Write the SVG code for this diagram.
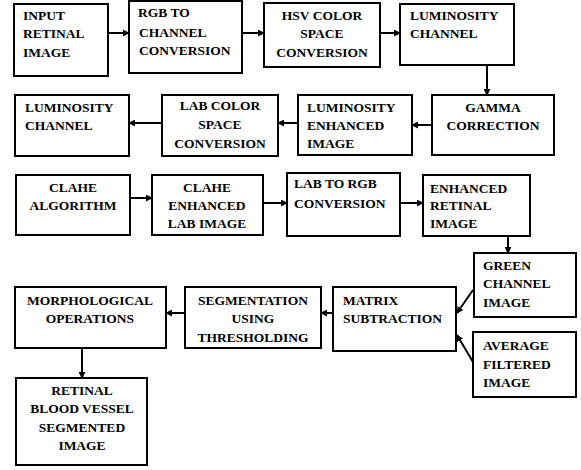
<svg xmlns="http://www.w3.org/2000/svg" width="581" height="470" viewBox="0 0 581 470">
  <defs>
    <marker id="arrow" viewBox="0 0 8 8" refX="7" refY="4" markerWidth="7" markerHeight="7" markerUnits="userSpaceOnUse" orient="auto">
      <path d="M0,0 L8,4 L0,8 Z" fill="#000"/>
    </marker>
    <style>
      rect { fill: #fff; stroke: #000; stroke-width: 2; }
      .c { text-anchor: middle; }
      #connectors line { stroke: #000; stroke-width: 2; marker-end: url(#arrow); }
    </style>
  </defs>
  <rect x="0" y="0" width="581" height="470" style="fill:#fff;stroke:none"/>

  <g id="nodes" font-family="'Liberation Serif', 'Times New Roman', 'DejaVu Serif', serif" font-weight="bold" font-size="13.5" fill="#000">
  <g id="input-retinal-image">
    <rect x="14" y="4" width="94" height="72"/>
    <text x="23" y="20">INPUT</text>
    <text x="23" y="38">RETINAL</text>
    <text x="23" y="57">IMAGE</text>
  </g>
  <g id="rgb-to-channel">
    <rect x="129" y="1" width="113" height="72"/>
    <text x="138" y="17">RGB TO</text>
    <text x="139" y="37">CHANNEL</text>
    <text x="139" y="55">CONVERSION</text>
  </g>
  <g id="hsv-conversion">
    <rect x="264" y="3" width="116" height="64"/>
    <text class="c" x="322" y="20">HSV COLOR</text>
    <text class="c" x="322" y="38">SPACE</text>
    <text class="c" x="322" y="57">CONVERSION</text>
  </g>
  <g id="luminosity-channel-1">
    <rect x="400" y="4" width="114" height="61"/>
    <text x="410" y="20">LUMINOSITY</text>
    <text x="410" y="38">CHANNEL</text>
  </g>
  <g id="gamma-correction">
    <rect x="432" y="95" width="122" height="60"/>
    <text class="c" x="493" y="112">GAMMA</text>
    <text class="c" x="493" y="130">CORRECTION</text>
  </g>
  <g id="luminosity-enhanced">
    <rect x="298" y="95" width="114" height="60"/>
    <text x="307" y="112">LUMINOSITY</text>
    <text x="307" y="130">ENHANCED</text>
    <text x="307" y="148">IMAGE</text>
  </g>
  <g id="lab-conversion">
    <rect x="162" y="95" width="116" height="61"/>
    <text class="c" x="220" y="110">LAB COLOR</text>
    <text class="c" x="220" y="129">SPACE</text>
    <text class="c" x="220" y="148">CONVERSION</text>
  </g>
  <g id="luminosity-channel-2">
    <rect x="15" y="95" width="114" height="61"/>
    <text x="25" y="112">LUMINOSITY</text>
    <text x="25" y="130">CHANNEL</text>
  </g>
  <g id="clahe-algorithm">
    <rect x="16" y="175" width="114" height="60"/>
    <text class="c" x="73" y="192">CLAHE</text>
    <text class="c" x="73" y="210">ALGORITHM</text>
  </g>
  <g id="clahe-enhanced">
    <rect x="152" y="175" width="111" height="60"/>
    <text class="c" x="207" y="192">CLAHE</text>
    <text class="c" x="207" y="210">ENHANCED</text>
    <text class="c" x="207" y="228">LAB IMAGE</text>
  </g>
  <g id="lab-to-rgb">
    <rect x="287" y="173" width="113" height="63"/>
    <text x="294" y="188">LAB TO RGB</text>
    <text x="294" y="208">CONVERSION</text>
  </g>
  <g id="enhanced-retinal">
    <rect x="423" y="175" width="107" height="61"/>
    <text x="430" y="193">ENHANCED</text>
    <text x="430" y="210">RETINAL</text>
    <text x="430" y="228">IMAGE</text>
  </g>
  <g id="green-channel">
    <rect x="474" y="253" width="102" height="64"/>
    <text x="483" y="270">GREEN</text>
    <text x="483" y="288">CHANNEL</text>
    <text x="483" y="307">IMAGE</text>
  </g>
  <g id="average-filtered">
    <rect x="473" y="332" width="103" height="65"/>
    <text x="483" y="350">AVERAGE</text>
    <text x="483" y="369">FILTERED</text>
    <text x="483" y="387">IMAGE</text>
  </g>
  <g id="matrix-subtraction">
    <rect x="333" y="287" width="123" height="64"/>
    <text x="343" y="305">MATRIX</text>
    <text x="343" y="323">SUBTRACTION</text>
  </g>
  <g id="segmentation">
    <rect x="185" y="287" width="136" height="61"/>
    <text class="c" x="253" y="305">SEGMENTATION</text>
    <text class="c" x="253" y="323">USING</text>
    <text class="c" x="253" y="342">THRESHOLDING</text>
  </g>
  <g id="morphological">
    <rect x="15" y="287" width="151" height="61"/>
    <text class="c" x="90" y="305">MORPHOLOGICAL</text>
    <text class="c" x="90" y="323">OPERATIONS</text>
  </g>
  <g id="segmented-image">
    <rect x="16" y="378" width="131" height="87"/>
    <text class="c" x="82" y="395">RETINAL</text>
    <text class="c" x="82" y="413">BLOOD VESSEL</text>
    <text class="c" x="82" y="432">SEGMENTED</text>
    <text class="c" x="82" y="450">IMAGE</text>
  </g>
  </g>

  <g id="connectors">
    <line x1="108" y1="33" x2="129" y2="33"/>
    <line x1="242" y1="33" x2="264" y2="33"/>
    <line x1="380" y1="33" x2="400" y2="33"/>
    <line x1="487" y1="65" x2="487" y2="95"/>
    <line x1="432" y1="125" x2="412" y2="125"/>
    <line x1="298" y1="123" x2="278" y2="123"/>
    <line x1="162" y1="123" x2="129" y2="123"/>
    <line x1="130" y1="198" x2="152" y2="198"/>
    <line x1="263" y1="203" x2="287" y2="203"/>
    <line x1="400" y1="203" x2="423" y2="203"/>
    <line x1="508" y1="236" x2="508" y2="253"/>
    <line x1="473" y1="290" x2="457" y2="313"/>
    <line x1="473" y1="362" x2="457" y2="335"/>
    <line x1="333" y1="313" x2="321" y2="313"/>
    <line x1="185" y1="313" x2="166" y2="313"/>
    <line x1="82" y1="348" x2="82" y2="378"/>
  </g>
</svg>
